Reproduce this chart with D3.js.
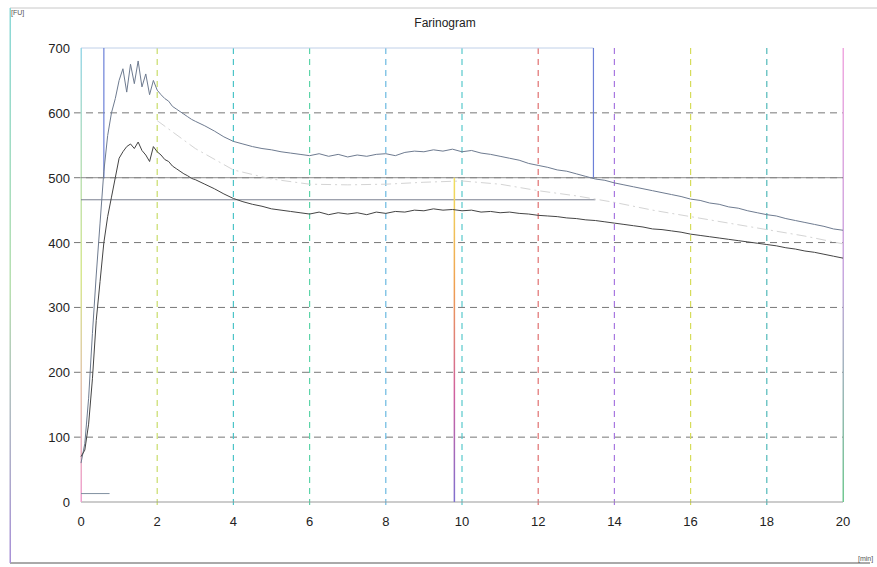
<!DOCTYPE html>
<html><head><meta charset="utf-8">
<script src="https://cdn.jsdelivr.net/npm/d3@7/dist/d3.min.js"></script>
<style>body{margin:0;background:#fff}svg{display:block;font-family:"Liberation Sans",Arial,sans-serif}</style>
</head><body><svg id="c" width="877" height="567"></svg>
<script>
const title = "Farinogram";
const yTicks = [0,100,200,300,400,500,600,700];
const xTicks = [0,2,4,6,8,10,12,14,16,18,20];
const gridColors = ["#c8dc6a","#4cc4c8","#5cd4a8","#6ab8e0","#58c8cc","#e07070","#a878e0","#d6dc5a","#50b8b8"];
// time in minutes: fine sampling 0-3, then every 0.25 min
const minutes = [0,0.1,0.2,0.3,0.4,0.5,0.6,0.7,0.8,0.9,1.0,1.1,1.2,1.3,1.4,1.5,1.6,1.7,1.8,1.9,2.0,2.1,2.2,2.3,2.4,2.5,2.6,2.7,2.8,2.9,3.0,
 3.25,3.5,3.75,4,4.25,4.5,4.75,5,5.25,5.5,5.75,6,6.25,6.5,6.75,7,7.25,7.5,7.75,8,8.25,8.5,8.75,9,9.25,9.5,9.75,10,
 10.25,10.5,10.75,11,11.25,11.5,11.75,12,12.25,12.5,12.75,13,13.25,13.5,13.75,14,14.25,14.5,14.75,15,15.25,15.5,15.75,16,
 16.25,16.5,16.75,17,17.25,17.5,17.75,18,18.25,18.5,18.75,19,19.25,19.5,19.75,20];
const upperFU = [60,90,160,260,350,430,510,565,600,622,650,668,632,675,645,680,640,660,628,650,635,628,622,618,610,606,602,598,594,590,587,
 580,572,563,556,552,548,545,543,540,538,536,534,537,533,536,532,535,533,536,537,534,539,541,540,543,541,544,540,
 542,538,536,533,530,527,522,519,516,512,510,506,502,498,496,492,489,486,483,480,477,474,471,467,
 465,461,459,455,453,449,446,443,441,437,434,431,428,425,421,419];
const lowerFU = [70,80,120,190,280,340,400,440,470,500,530,540,548,552,545,555,542,535,525,548,540,535,528,525,518,514,510,506,503,499,497,
 490,483,475,468,463,459,456,452,450,448,446,444,447,443,446,444,446,443,447,445,448,447,450,449,452,450,451,449,
 450,447,448,446,447,445,444,442,441,440,438,437,435,434,432,430,428,426,424,421,420,418,416,413,
 411,409,407,405,403,401,399,397,395,392,390,387,385,382,379,376];
const midMinutes = [2,3,4,5,6,7,8,9,10,11,12,13,14,15,16,17,18,19,20];
const midFU = [588,545,512,498,490,489,490,493,495,490,480,472,462,450,440,430,420,410,398];
const refLines = [500, 466];

const svg = d3.select("#c");
const x = d3.scaleLinear().domain([0,20]).range([81,843]);
const y = d3.scaleLinear().domain([0,700]).range([502,48]);
const defs = svg.append("defs");
function grad(id, stops){
  const g = defs.append("linearGradient").attr("id",id).attr("x1",0).attr("y1",0).attr("x2",0).attr("y2",1);
  stops.forEach((c,i)=>g.append("stop").attr("offset",i/(stops.length-1)).attr("stop-color",c));
}
grad("gLeft",["#9ad8e8","#d8e890","#f0a0d0"]);
grad("gRight",["#f0a8e0","#c8a8e0","#70c890"]);
grad("gMark",["#f0e060","#f0a050","#d060a0","#8070d0"]);
grad("gFrame",["#8ad8d8","#b8e0b0","#a890d8"]);

// outer frame
svg.append("line").attr("x1",10).attr("x2",877).attr("y1",8).attr("y2",8).attr("stroke","#c8c8c8");
svg.append("line").attr("x1",10).attr("x2",870).attr("y1",563).attr("y2",563).attr("stroke","#555");
svg.append("rect").attr("x",9.5).attr("y",8).attr("width",1.5).attr("height",555).attr("fill","url(#gFrame)");
svg.append("text").attr("x",11).attr("y",15).attr("font-size",7).attr("fill","#555").text("[FU]");
svg.append("text").attr("x",858).attr("y",561).attr("font-size",7).attr("fill","#555").text("[min]");

svg.append("text").attr("x",445).attr("y",27).attr("text-anchor","middle").attr("font-size",12).attr("fill","#222").text(title);

// horizontal dashed grid
svg.append("g").selectAll("line").data(yTicks.filter(v=>v>0&&v<700)).join("line")
  .attr("x1",74).attr("x2",x(20)).attr("y1",d=>y(d)).attr("y2",d=>y(d))
  .attr("stroke","#777").attr("stroke-dasharray","7,5").attr("stroke-width",1);
// vertical dashed grid
svg.append("g").selectAll("line").data(xTicks.filter(v=>v>0&&v<20)).join("line")
  .attr("x1",d=>x(d)).attr("x2",d=>x(d)).attr("y1",y(700)).attr("y2",y(0)+5)
  .attr("stroke",(d,i)=>gridColors[i]).attr("stroke-dasharray","6,5").attr("stroke-width",1.2);

// axes lines
svg.append("line").attr("x1",x(0)).attr("x2",x(20)).attr("y1",y(0)).attr("y2",y(0)).attr("stroke","#999");
svg.append("line").attr("x1",x(0)).attr("x2",x(13.45)).attr("y1",y(700)).attr("y2",y(700)).attr("stroke","#c0d0e8");
svg.append("rect").attr("x",x(0)-0.5).attr("y",y(700)).attr("width",1.5).attr("height",y(0)-y(700)).attr("fill","url(#gLeft)");
svg.append("rect").attr("x",x(20)-0.5).attr("y",y(700)).attr("width",1.5).attr("height",y(0)-y(700)).attr("fill","url(#gRight)");

// reference lines
svg.append("line").attr("x1",x(0)).attr("x2",x(20)).attr("y1",y(refLines[0])).attr("y2",y(refLines[0])).attr("stroke","#8a8a8a");
svg.append("line").attr("x1",x(0)).attr("x2",x(13.5)).attr("y1",y(refLines[1])).attr("y2",y(refLines[1])).attr("stroke","#7a7f90");
svg.append("line").attr("x1",x(0.6)).attr("x2",x(0.6)).attr("y1",y(700)).attr("y2",y(refLines[0])).attr("stroke","#6c80d8").attr("stroke-width",1.2);
svg.append("line").attr("x1",x(13.45)).attr("x2",x(13.45)).attr("y1",y(700)).attr("y2",y(refLines[0])).attr("stroke","#6c80d8").attr("stroke-width",1.2);
svg.append("rect").attr("x",x(9.8)-0.75).attr("y",y(refLines[0])).attr("width",1.5).attr("height",y(0)-y(refLines[0])).attr("fill","url(#gMark)");
svg.append("line").attr("x1",x(0)).attr("x2",x(0.75)).attr("y1",y(13)).attr("y2",y(13)).attr("stroke","#8090a0");

// curves
const line = d3.line().x(d=>x(d[0])).y(d=>y(d[1]));
svg.append("path").attr("d",line(midMinutes.map((m,i)=>[m,midFU[i]])))
  .attr("fill","none").attr("stroke","#d4d4d4").attr("stroke-dasharray","10,4,2,4");
svg.append("path").attr("d",line(minutes.map((m,i)=>[m,upperFU[i]])))
  .attr("fill","none").attr("stroke","#6e7b90").attr("stroke-width",1);
svg.append("path").attr("d",line(minutes.map((m,i)=>[m,lowerFU[i]])))
  .attr("fill","none").attr("stroke","#444").attr("stroke-width",1);

// tick labels
svg.append("g").selectAll("text").data(yTicks).join("text")
  .attr("x",70).attr("y",d=>y(d)+5).attr("text-anchor","end").attr("font-size",13).attr("fill","#222").text(d=>d);
svg.append("g").selectAll("text").data(xTicks).join("text")
  .attr("x",d=>x(d)).attr("y",526).attr("text-anchor","middle").attr("font-size",13).attr("fill","#222").text(d=>d);
</script></body></html>
